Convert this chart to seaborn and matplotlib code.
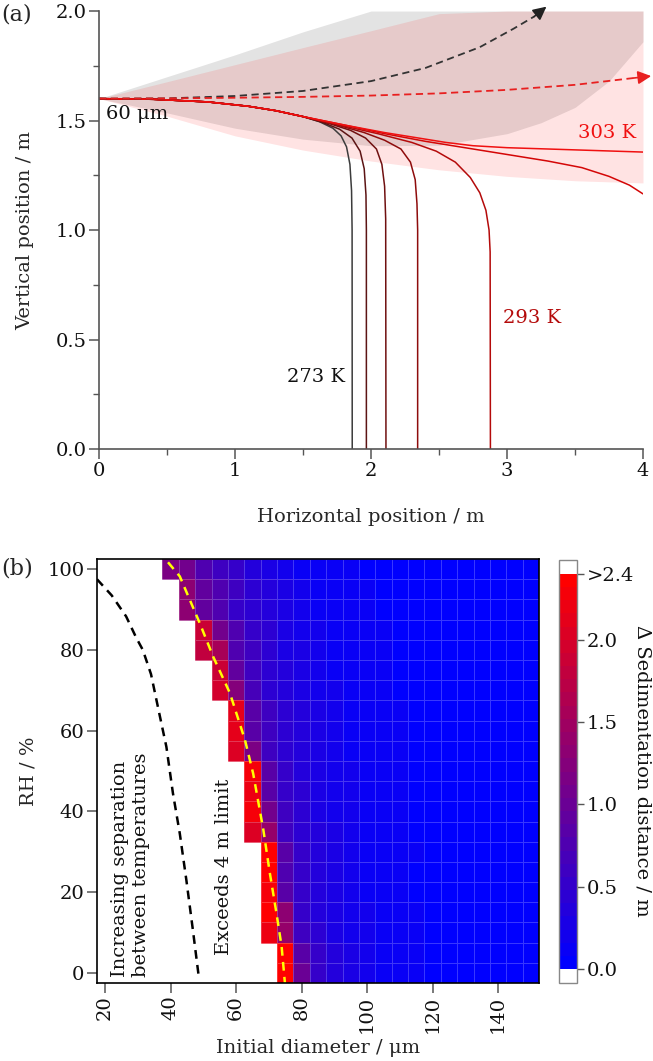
import numpy as np
import pandas as pd
import matplotlib
matplotlib.use('Agg')
import matplotlib.pyplot as plt
import seaborn as sns
from matplotlib.colors import LinearSegmentedColormap
from matplotlib.ticker import MultipleLocator, FormatStrFormatter

# ---------------- panel (a): droplet trajectories ----------------
temps = [273, 278, 283, 288, 293, 298, 303]
line_colors = ['#3c3c3c', '#5c1414', '#701010', '#8e0c0c', '#b40a0a', '#d40606', '#f01010']

x_273 = [0.0, 0.4, 0.8, 1.1, 1.3, 1.5, 1.62, 1.72, 1.78, 1.82, 1.845, 1.857, 1.861, 1.862]
y_273 = [1.6, 1.597, 1.585, 1.565, 1.545, 1.518, 1.495, 1.465, 1.43, 1.38, 1.3, 1.18, 1.0, 0.0]
x_278 = [0.0, 0.4, 0.8, 1.1, 1.3, 1.5, 1.65, 1.77, 1.86, 1.92, 1.95, 1.963, 1.966, 1.966]
y_278 = [1.6, 1.597, 1.585, 1.565, 1.545, 1.518, 1.49, 1.46, 1.42, 1.36, 1.28, 1.16, 1.0, 0.0]
x_283 = [0.0, 0.4, 0.8, 1.1, 1.3, 1.5, 1.7, 1.85, 1.96, 2.04, 2.08, 2.1, 2.108, 2.11]
y_283 = [1.6, 1.597, 1.585, 1.565, 1.545, 1.518, 1.485, 1.455, 1.42, 1.37, 1.3, 1.2, 1.05, 0.0]
x_288 = [0.0, 0.4, 0.8, 1.1, 1.3, 1.5, 1.75, 1.95, 2.1, 2.22, 2.29, 2.325, 2.338, 2.343, 2.343]
y_288 = [1.6, 1.597, 1.585, 1.565, 1.545, 1.518, 1.48, 1.445, 1.41, 1.37, 1.31, 1.23, 1.12, 1.0, 0.0]
x_293 = [0.0, 0.4, 0.8, 1.1, 1.3, 1.5, 1.8, 2.05, 2.3, 2.48, 2.62, 2.73, 2.8, 2.845, 2.868, 2.876, 2.878]
y_293 = [1.6, 1.597, 1.585, 1.565, 1.545, 1.518, 1.475, 1.44, 1.4, 1.36, 1.31, 1.24, 1.17, 1.09, 1.0, 0.9, 0.0]
x_298 = [0.0, 0.4, 0.8, 1.1, 1.3, 1.5, 1.8, 2.1, 2.4, 2.7, 3.0, 3.3, 3.55, 3.75, 3.9, 4.0]
y_298 = [1.6, 1.597, 1.585, 1.565, 1.545, 1.518, 1.48, 1.44, 1.405, 1.375, 1.345, 1.315, 1.285, 1.245, 1.205, 1.165]
x_303 = [0.0, 0.4, 0.8, 1.1, 1.3, 1.5, 1.8, 2.1, 2.35, 2.55, 2.75, 3.0, 3.4, 3.7, 4.0]
y_303 = [1.6, 1.597, 1.585, 1.565, 1.545, 1.518, 1.48, 1.445, 1.42, 1.4, 1.385, 1.376, 1.368, 1.362, 1.356]
traj_x = [x_273, x_278, x_283, x_288, x_293, x_298, x_303]
traj_y = [y_273, y_278, y_283, y_288, y_293, y_298, y_303]

# dashed "no evaporation" paths
dash_black_x = [0.0, 0.5, 1.0, 1.5, 2.0, 2.4, 2.8, 3.05, 3.2]
dash_black_y = [1.6, 1.601, 1.612, 1.635, 1.68, 1.74, 1.835, 1.92, 1.975]
dash_black_tip = (3.29, 2.02)
dash_red_x = [0.0, 0.5, 1.0, 1.5, 2.0, 2.5, 3.0, 3.5, 3.93]
dash_red_y = [1.6, 1.601, 1.604, 1.608, 1.614, 1.624, 1.64, 1.663, 1.694]
dash_red_tip = (4.06, 1.703)

# spread envelopes
band_x = [0.0, 0.5, 1.0, 1.5, 2.0, 2.5, 3.0, 3.25, 3.5, 3.75, 4.0]
grey_upper = [1.6, 1.70, 1.80, 1.905, 2.0, 2.0, 2.0, 2.0, 2.0, 2.0, 2.0]
grey_lower = [1.6, 1.535, 1.465, 1.415, 1.385, 1.387, 1.44, 1.49, 1.56, 1.68, 1.86]
pink_upper = [1.6, 1.677, 1.755, 1.833, 1.91, 1.988, 2.0, 2.0, 2.0, 2.0, 2.0]
pink_lower = [1.6, 1.52, 1.43, 1.365, 1.315, 1.275, 1.245, 1.235, 1.225, 1.22, 1.215]

# ---------------- panel (b): heatmap ----------------
diameters = list(range(20, 155, 5))      # initial diameter / um
rh_values = list(range(100, -5, -5))     # RH / %, top row first

# each row starts at the first diameter that stays below the 4 m limit
row_100 = [1.18, 1.08, 0.72, 0.62, 0.5, 0.38, 0.28, 0.2, 0.15, 0.12, 0.1, 0.08, 0.07, 0.06, 0.05, 0.05, 0.04, 0.04, 0.03, 0.03, 0.03, 0.02, 0.02]
row_95 = [1.3, 0.95, 0.72, 0.56, 0.42, 0.33, 0.25, 0.19, 0.15, 0.12, 0.1, 0.08, 0.07, 0.06, 0.05, 0.05, 0.04, 0.04, 0.03, 0.03, 0.02, 0.02]
row_90 = [1.32, 0.92, 0.75, 0.55, 0.43, 0.34, 0.26, 0.2, 0.15, 0.12, 0.1, 0.08, 0.07, 0.06, 0.05, 0.05, 0.04, 0.04, 0.03, 0.03, 0.02, 0.02]
row_85 = [1.88, 1.05, 0.75, 0.52, 0.4, 0.3, 0.23, 0.18, 0.14, 0.11, 0.09, 0.08, 0.07, 0.06, 0.05, 0.04, 0.04, 0.03, 0.03, 0.02, 0.02]
row_80 = [1.8, 1.55, 0.78, 0.56, 0.42, 0.31, 0.24, 0.18, 0.14, 0.11, 0.09, 0.08, 0.07, 0.06, 0.05, 0.04, 0.04, 0.03, 0.03, 0.02, 0.02]
row_75 = [1.9, 0.95, 0.62, 0.45, 0.34, 0.26, 0.2, 0.15, 0.12, 0.1, 0.08, 0.07, 0.06, 0.05, 0.04, 0.04, 0.03, 0.03, 0.02, 0.02]
row_70 = [1.92, 1.2, 0.66, 0.47, 0.35, 0.27, 0.21, 0.16, 0.12, 0.1, 0.08, 0.07, 0.06, 0.05, 0.04, 0.04, 0.03, 0.03, 0.02, 0.02]
row_65 = [2.15, 0.85, 0.56, 0.42, 0.32, 0.24, 0.18, 0.14, 0.11, 0.09, 0.08, 0.07, 0.06, 0.05, 0.04, 0.03, 0.03, 0.02, 0.02]
row_60 = [2.1, 0.82, 0.58, 0.43, 0.32, 0.25, 0.19, 0.14, 0.11, 0.09, 0.08, 0.07, 0.06, 0.05, 0.04, 0.03, 0.03, 0.02, 0.02]
row_55 = [2.0, 1.15, 0.62, 0.45, 0.34, 0.26, 0.2, 0.15, 0.12, 0.1, 0.08, 0.07, 0.06, 0.05, 0.04, 0.03, 0.03, 0.02, 0.02]
row_50 = [2.3, 0.8, 0.52, 0.38, 0.28, 0.21, 0.16, 0.12, 0.1, 0.08, 0.07, 0.06, 0.05, 0.04, 0.03, 0.03, 0.02, 0.02]
row_45 = [2.22, 0.85, 0.55, 0.4, 0.3, 0.22, 0.17, 0.13, 0.1, 0.08, 0.07, 0.06, 0.05, 0.04, 0.03, 0.03, 0.02, 0.02]
row_40 = [2.3, 1.05, 0.58, 0.42, 0.31, 0.23, 0.17, 0.13, 0.1, 0.08, 0.07, 0.06, 0.05, 0.04, 0.03, 0.03, 0.02, 0.02]
row_35 = [2.05, 1.4, 0.62, 0.44, 0.32, 0.24, 0.18, 0.14, 0.11, 0.09, 0.07, 0.06, 0.05, 0.04, 0.03, 0.03, 0.02, 0.02]
row_30 = [2.35, 0.85, 0.5, 0.36, 0.27, 0.2, 0.15, 0.12, 0.09, 0.08, 0.06, 0.05, 0.04, 0.04, 0.03, 0.02, 0.02]
row_25 = [2.35, 0.75, 0.48, 0.35, 0.26, 0.2, 0.15, 0.11, 0.09, 0.07, 0.06, 0.05, 0.04, 0.04, 0.03, 0.02, 0.02]
row_20 = [2.3, 0.85, 0.5, 0.36, 0.27, 0.2, 0.15, 0.12, 0.09, 0.07, 0.06, 0.05, 0.04, 0.04, 0.03, 0.02, 0.02]
row_15 = [2.35, 1.3, 0.55, 0.38, 0.28, 0.21, 0.16, 0.12, 0.09, 0.08, 0.06, 0.05, 0.04, 0.04, 0.03, 0.02, 0.02]
row_10 = [2.22, 1.4, 0.58, 0.4, 0.29, 0.22, 0.16, 0.12, 0.1, 0.08, 0.06, 0.05, 0.04, 0.04, 0.03, 0.02, 0.02]
row_5 = [2.38, 0.85, 0.48, 0.34, 0.25, 0.19, 0.14, 0.11, 0.08, 0.07, 0.05, 0.04, 0.04, 0.03, 0.02, 0.02]
row_0 = [2.38, 1.0, 0.52, 0.36, 0.26, 0.2, 0.15, 0.11, 0.09, 0.07, 0.05, 0.04, 0.04, 0.03, 0.02, 0.02]
rows = [row_100, row_95, row_90, row_85, row_80, row_75, row_70, row_65, row_60, row_55,
        row_50, row_45, row_40, row_35, row_30, row_25, row_20, row_15, row_10, row_5, row_0]

# boundary lines (diameter / um, RH / %)
sep_d = [17.5, 22.0, 26.4, 29.5, 31.5, 34.0, 36.6, 38.7, 40.7, 42.8, 44.8, 46.8, 48.6]
sep_rh = [97.5, 93.5, 88.3, 83.0, 80.0, 74.0, 64.0, 56.0, 44.5, 34.5, 23.0, 10.6, -1.0]
lim_d = [39.2, 42.8, 48.9, 53.0, 58.1, 62.7, 65.2, 68.3, 70.3, 72.3, 73.9, 74.9]
lim_rh = [101.7, 98.2, 86.6, 78.3, 69.3, 57.7, 49.4, 35.5, 24.7, 14.9, 6.5, -2.5]

sns.set_theme(style='ticks')
plt.rcParams['font.family'] = ['DejaVu Serif']
FS = 14
grey = '#555555'

fig = plt.figure(figsize=(6.53, 10.61), dpi=100)
ax = fig.add_axes([0.1516, 0.5768, 0.8331, 0.4128])
axb = fig.add_axes([0.1485, 0.0735, 0.6769, 0.3996])
cax = fig.add_axes([0.8560, 0.0735, 0.0276, 0.3987])

# ---- (a) ----
ax.fill_between(band_x, grey_lower, grey_upper, color='black', alpha=0.11, lw=0)
ax.fill_between(band_x, pink_lower, pink_upper, color='red', alpha=0.11, lw=0)

for xs, ys, col in zip(traj_x, traj_y, line_colors):
    sns.lineplot(x=xs, y=ys, ax=ax, color=col, lw=1.1, sort=False, estimator=None)

sns.lineplot(x=dash_black_x, y=dash_black_y, ax=ax, color='#333333', lw=1.3,
             linestyle=(0, (4, 2.5)), sort=False, estimator=None)
sns.lineplot(x=dash_red_x, y=dash_red_y, ax=ax, color='#e82020', lw=1.3,
             linestyle=(0, (4, 2.5)), sort=False, estimator=None)
ax.annotate('', xy=dash_black_tip, xytext=(dash_black_x[-1], dash_black_y[-1]),
            arrowprops=dict(arrowstyle='-|>', color='#222222', lw=1.2, mutation_scale=20,
                            shrinkA=0, shrinkB=0), annotation_clip=False)
ax.annotate('', xy=dash_red_tip, xytext=(dash_red_x[-1], dash_red_y[-1]),
            arrowprops=dict(arrowstyle='-|>', color='#e82020', lw=1.2, mutation_scale=20,
                            shrinkA=0, shrinkB=0), annotation_clip=False)

ax.text(0.05, 1.53, '60 μm', fontsize=FS, va='center', ha='left', color='#111111')
ax.text(3.95, 1.445, '303 K', fontsize=FS, va='center', ha='right', color='#f01010')
ax.text(2.97, 0.60, '293 K', fontsize=FS, va='center', ha='left', color='#b40a0a')
ax.text(1.81, 0.33, '273 K', fontsize=FS, va='center', ha='right', color='#111111')

ax.set_xlim(0, 4)
ax.set_ylim(0, 2.0)
ax.xaxis.set_major_locator(MultipleLocator(1))
ax.xaxis.set_minor_locator(MultipleLocator(0.5))
ax.yaxis.set_major_locator(MultipleLocator(0.5))
ax.yaxis.set_minor_locator(MultipleLocator(0.25))
ax.xaxis.set_major_formatter(FormatStrFormatter('%d'))
ax.yaxis.set_major_formatter(FormatStrFormatter('%.1f'))
sns.despine(ax=ax)
for s in ['left', 'bottom']:
    ax.spines[s].set_color(grey)
    ax.spines[s].set_linewidth(1.2)
ax.tick_params(which='major', direction='out', length=7, width=1.1, color=grey,
               labelsize=FS, pad=2, labelcolor='#111111')
ax.tick_params(which='minor', direction='out', length=4, width=1.0, color=grey)
ax.set_xlabel('Horizontal position / m', fontsize=FS)
ax.set_ylabel('Vertical position / m', fontsize=FS)
ax.xaxis.label.set_va('center')
ax.yaxis.label.set_va('center')
ax.xaxis.set_label_coords(0.5, -0.155)
ax.yaxis.set_label_coords(-0.135, 0.5)

# ---- (b) ----
matrix = [[np.nan] * (len(diameters) - len(r)) + r for r in rows]
df = pd.DataFrame(matrix, index=rh_values, columns=diameters)

cmap = LinearSegmentedColormap.from_list('bluered', ['#0000ff', '#ff0000'], N=30)
cmap.set_over('white')
cmap.set_under('white')

sns.heatmap(df, ax=axb, cmap=cmap, vmin=0, vmax=2.4, cbar_ax=cax,
            cbar_kws=dict(extend='both', extendrect=True, extendfrac=0.035),
            linewidths=0.4, linecolor=(1, 1, 1, 0.22),
            xticklabels=False, yticklabels=False)


def d_to_col(d):
    return (np.asarray(d, dtype=float) - diameters[0]) / 5 + 0.5


def rh_to_row(r):
    return (rh_values[0] - np.asarray(r, dtype=float)) / 5 + 0.5


sns.lineplot(x=d_to_col(sep_d), y=rh_to_row(sep_rh), ax=axb, color='black', lw=1.8,
             linestyle=(0, (3.5, 2.5)), sort=False, estimator=None)
sns.lineplot(x=d_to_col(lim_d), y=rh_to_row(lim_rh), ax=axb, color='#ffff00', lw=1.8,
             linestyle=(0, (3.5, 2.5)), sort=False, estimator=None)

xt = [20, 40, 60, 80, 100, 120, 140]
yt = [0, 20, 40, 60, 80, 100]
axb.set_xticks(d_to_col(xt))
axb.set_xticklabels([str(v) for v in xt], rotation=90)
axb.set_yticks(rh_to_row(yt))
axb.set_yticklabels([str(v) for v in yt], rotation=0)
axb.set_xlim(0, len(diameters))
axb.set_ylim(len(rh_values), 0)
for s in axb.spines.values():
    s.set_visible(True)
    s.set_color('black')
    s.set_linewidth(1.2)
axb.tick_params(direction='out', length=7, width=1.1, color=grey, labelsize=FS, pad=2,
                labelcolor='#111111')
axb.set_xlabel('Initial diameter / μm', fontsize=FS, visible=True)
axb.set_ylabel('RH / %', fontsize=FS, visible=True)
axb.xaxis.label.set_va('center')
axb.yaxis.label.set_va('center')
axb.xaxis.set_label_coords(0.5, -0.153)
axb.yaxis.set_label_coords(-0.156, 0.5)

axb.text(0.075, 0.014, 'Increasing separation\nbetween temperatures', transform=axb.transAxes,
         rotation=90, ha='center', va='bottom', multialignment='left', fontsize=FS,
         color='#111111')
axb.text(0.287, 0.066, 'Exceeds 4 m limit', transform=axb.transAxes, rotation=90,
         ha='center', va='bottom', fontsize=FS, color='#111111')

cb = axb.collections[0].colorbar
cb.set_ticks([0, 0.5, 1.0, 1.5, 2.0, 2.4])
cb.set_ticklabels(['0.0', '0.5', '1.0', '1.5', '2.0', '>2.4'])
cb.outline.set_edgecolor('#888888')
cb.outline.set_linewidth(1.0)
cax.tick_params(direction='out', length=5, width=1.0, color=grey, labelsize=FS, pad=2,
                labelcolor='#111111')
fig.text(643 / 653, 1 - 771 / 1061, 'Δ Sedimentation distance / m', rotation=270,
         ha='center', va='center', fontsize=FS, color='#111111')

fig.text(0.002, 1 - 15 / 1061, '(a)', fontsize=FS + 2, ha='left', va='center')
fig.text(0.002, 1 - 569 / 1061, '(b)', fontsize=FS + 2, ha='left', va='center')

fig.savefig('out.png', dpi=100)
plt.close(fig)
